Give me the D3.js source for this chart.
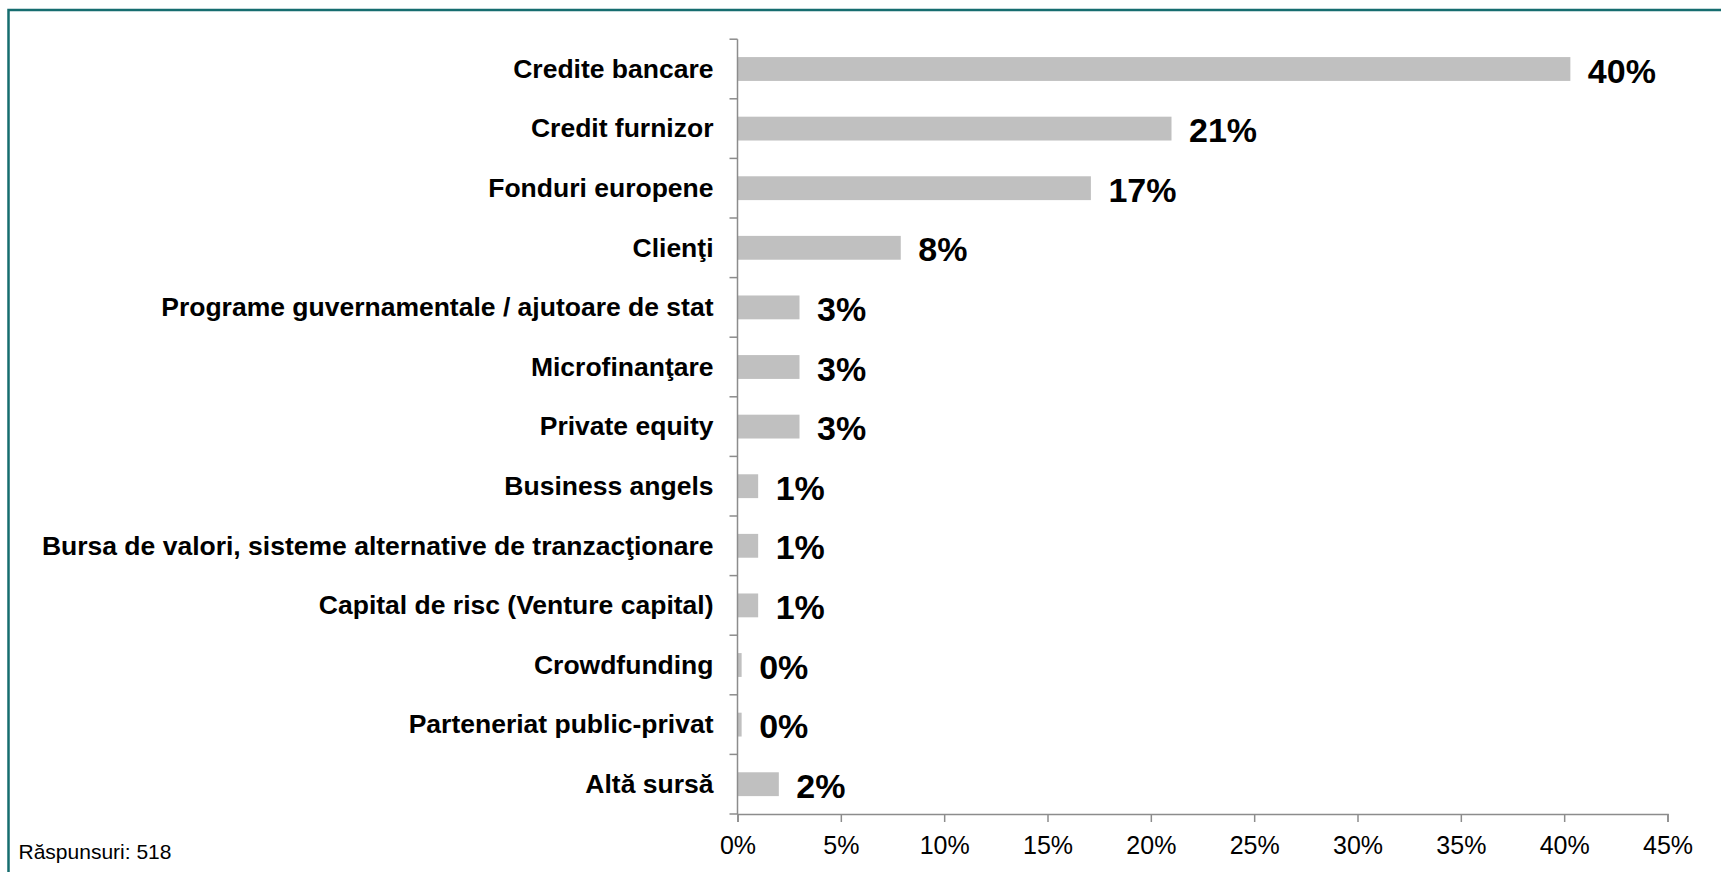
<!DOCTYPE html>
<html>
<head>
<meta charset="utf-8">
<script src="https://cdn.jsdelivr.net/npm/d3@7"></script>
<style>
  html, body { margin: 0; padding: 0; background: #fff; }
  svg { display: block; font-family: "Liberation Sans", Arial, sans-serif; }
</style>
</head>
<body>
<svg id="chart" width="1721" height="872"></svg>
<script>
const categories = [
  "Credite bancare",
  "Credit furnizor",
  "Fonduri europene",
  "Clienţi",
  "Programe guvernamentale / ajutoare de stat",
  "Microfinanţare",
  "Private equity",
  "Business angels",
  "Bursa de valori, sisteme alternative de tranzacţionare",
  "Capital de risc (Venture capital)",
  "Crowdfunding",
  "Parteneriat public-privat",
  "Altă sursă"
];
const values = [40.3, 21.0, 17.1, 7.9, 3.0, 3.0, 3.0, 1.0, 1.0, 1.0, 0.2, 0.2, 2.0];
const valueLabels = ["40%", "21%", "17%", "8%", "3%", "3%", "3%", "1%", "1%", "1%", "0%", "0%", "2%"];
const xTicks = [0, 5, 10, 15, 20, 25, 30, 35, 40, 45];
const footnote = "Răspunsuri: 518";

const svg = d3.select("#chart");

// frame border
svg.append("rect")
  .attr("x", 8.5).attr("y", 10)
  .attr("width", 1800).attr("height", 1000)
  .attr("fill", "none")
  .attr("stroke", "#166d6f")
  .attr("stroke-width", 2.5);

const x0 = 737.5, x1 = 1667.5, yTop = 39.2, yBot = 814;

const x = d3.scaleLinear().domain([0, 45]).range([x0, x1]);
const y = d3.scaleBand().domain(categories).range([yTop, yBot])
  .paddingInner(0.6).paddingOuter(0.3);
const step = y.step();

const axisColor = "#8c8c8c";

// bars
svg.append("g").selectAll("rect")
  .data(categories)
  .join("rect")
  .attr("x", x(0))
  .attr("y", d => y(d))
  .attr("width", (d, i) => x(values[i]) - x(0))
  .attr("height", y.bandwidth())
  .attr("fill", "#c0c0c0");

// x axis
const xAxis = d3.axisBottom(x)
  .tickValues(xTicks)
  .tickFormat(d => d + "%")
  .tickSize(8)
  .tickPadding(14);
const gx = svg.append("g")
  .attr("transform", `translate(0,${yBot})`)
  .call(xAxis);
gx.select(".domain").attr("stroke", axisColor).attr("stroke-width", 1.5);
gx.selectAll(".tick line").attr("stroke", axisColor).attr("stroke-width", 1.5);
gx.selectAll(".tick text")
  .attr("fill", "#000")
  .style("font-family", "'Liberation Sans', Arial, sans-serif")
  .style("font-size", "25px");

// y axis line
svg.append("line")
  .attr("x1", x0).attr("x2", x0)
  .attr("y1", yTop).attr("y2", yBot)
  .attr("stroke", axisColor).attr("stroke-width", 1.5);

// y ticks at band boundaries
const boundaries = d3.range(categories.length + 1).map(i => yTop + i * step);
svg.append("g").selectAll("line")
  .data(boundaries)
  .join("line")
  .attr("x1", x0 - 8).attr("x2", x0)
  .attr("y1", d => d).attr("y2", d => d)
  .attr("stroke", axisColor).attr("stroke-width", 1.5);

// category labels
svg.append("g").selectAll("text")
  .data(categories)
  .join("text")
  .attr("x", x0 - 24)
  .attr("y", d => y(d) + y.bandwidth() / 2)
  .attr("dy", "0.33em")
  .attr("text-anchor", "end")
  .attr("font-weight", "bold")
  .attr("font-size", "26.5px")
  .attr("fill", "#000")
  .text(d => d);

// value labels
svg.append("g").selectAll("text")
  .data(categories)
  .join("text")
  .attr("x", (d, i) => x(values[i]) + 17.5)
  .attr("y", d => y(d) + y.bandwidth() / 2)
  .attr("dy", "0.4em")
  .attr("font-weight", "bold")
  .attr("font-size", "34px")
  .attr("fill", "#000")
  .text((d, i) => valueLabels[i]);

// footnote
svg.append("text")
  .attr("x", 18.5)
  .attr("y", 859.3)
  .attr("font-size", "21px")
  .attr("fill", "#000")
  .text(footnote);
</script>
</body>
</html>
